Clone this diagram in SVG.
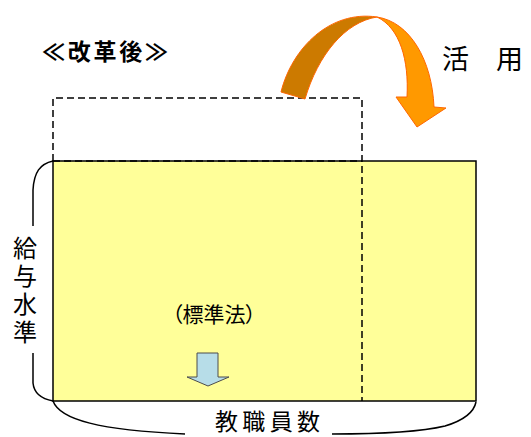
<svg xmlns="http://www.w3.org/2000/svg" width="531" height="437" viewBox="0 0 531 437">
<style>
text{font-family:"Noto Sans CJK JP","Noto Sans CJK SC",sans-serif;fill:#000}
.dash{fill:none;stroke:#000;stroke-width:1.5;stroke-dasharray:7,4}
.brace{fill:none;stroke:#000;stroke-width:1.5}
.palt{font-feature-settings:"palt"}
</style>
<rect width="531" height="437" fill="#fff"/>
<g id="yellow-box">
<rect x="53" y="161" width="423" height="240" fill="#ffff99" stroke="#000" stroke-width="1.5"/>
</g>
<g id="dashed-box">
<path class="dash" d="M53,161 L53,98 L362,98 L362,401"/>
<path class="dash" d="M53,161 L362,161"/>
</g>
<g id="title"><text x="42" y="60" font-size="23" font-weight="bold" textLength="126" lengthAdjust="spacing">≪改革後≫</text></g>
<g id="katsuyou"><text x="442" y="69" font-size="27">活　用</text></g>
<g id="curved-arrow">
<path d="M281,92 C292,48 330,10 377,17 C345,22 318,55 305,99 Z" fill="#cc7a00" stroke="#ff6600" stroke-width="1"/>
<path d="M377,17 C410,22 432,60 434,107 L446,108 L417,127 L396,97 L407,97 C409,60 400,28 377,17 Z" fill="#ff9900" stroke="#ff6600" stroke-width="1"/>
</g>
<g id="kyuyo-suijun">
<text x="25" y="236" font-size="24" writing-mode="vertical-rl" letter-spacing="4">給与水準</text>
</g>
<g id="hyojunho"><text class="palt" x="214" y="322" font-size="21" text-anchor="middle">（標準法）</text></g>
<g id="down-arrow">
<path d="M197,353 L218,353 L218,377 L229,377 L208,386 L187,377 L197,377 Z" fill="#b7dde8" stroke="#4d4d4d" stroke-width="1"/>
</g>
<g id="kyoshokuin-su"><text x="215" y="430" font-size="23" textLength="105" lengthAdjust="spacing">教職員数</text></g>
<g id="connectors">
<path class="brace" d="M53,161 C40,164 34,172 33,190 L33,226"/>
<path class="brace" d="M33,353 L33,383 C34,393 42,399 53,401"/>
<path class="brace" d="M53,401 C60,420 100,430 185,434"/>
<path class="brace" d="M332,434 C380,434 420,432 445,426 C465,420 474,412 476,402"/>
</g>
</svg>
